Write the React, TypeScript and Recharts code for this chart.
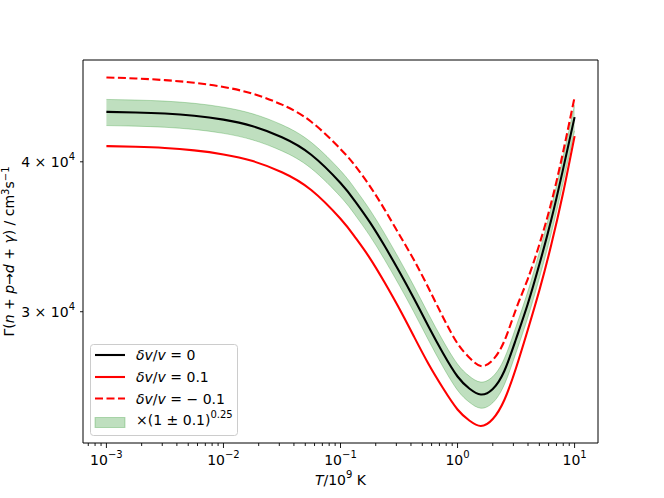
import { ComposedChart, Line, Area, XAxis, YAxis, Legend, ReferenceArea } from 'recharts'

// page has an 8px default margin; the figure should sit at the top-left corner
document.body.style.margin = '0'

const FONT = 'DejaVu Sans, sans-serif'

// Temperature in units of 10^9 K
const T_VALUES = [
  0.001, 0.00178, 0.00316, 0.00562, 0.01, 0.0178, 0.0316, 0.0562, 0.1, 0.133, 0.178, 0.237,
  0.316, 0.422, 0.562, 0.75, 1, 1.26, 1.58, 2.0, 2.51, 3.16, 3.98, 5.01, 6.31, 7.94, 10,
]

// Rate in cm^3 s^-1, dv/v = 0
const RATE_NOMINAL = [
  44026, 43975, 43882, 43698, 43372, 42826, 41932, 40548, 38406, 37096, 35631, 34061, 32436,
  30799, 29189, 27716, 26494, 25892, 25595, 25867, 26776, 28471, 30447, 32874, 35769, 39368,
  43580,
]

// dv/v = 0.1
const RATE_PLUS = [
  41223, 41168, 41073, 40884, 40572, 40054, 39210, 37894, 35858, 34621, 33254, 31758, 30213,
  28634, 27164, 25916, 24870, 24350, 24095, 24420, 25327, 26930, 28966, 31275, 34094, 37598,
  42021,
]

// dv/v = -0.1
const RATE_MINUS = [
  47029, 46939, 46786, 46553, 46179, 45581, 44638, 43198, 40994, 39710, 38179, 36531, 34821,
  33159, 31426, 29698, 28226, 27478, 27034, 27347, 28362, 30156, 31942, 34159, 36954, 40673,
  45285,
]

// x(1 +- 0.1)^0.25 band around the nominal curve
const BAND_LOW = [
  42881, 42832, 42741, 42562, 42244, 41713, 40842, 39494, 37407, 36131, 34705, 33175, 31593,
  29998, 28430, 26995, 25805, 25219, 24930, 25194, 26080, 27731, 29655, 32019, 34839, 38344,
  42447,
]
const BAND_HIGH = [
  45087, 45035, 44940, 44752, 44418, 43859, 42943, 41526, 39332, 37990, 36490, 34882, 33218,
  31542, 29893, 28384, 27133, 26516, 26212, 26491, 27422, 29157, 31181, 33667, 36631, 40317,
  44631,
]

const X_MAJOR_TICKS = [0.001, 0.01, 0.1, 1, 10]
const X_TICK_EXPONENTS = ['\u22123', '\u22122', '\u22121', '0', '1']
const Y_TICKS = [30000, 40000]
const Y_TICK_MANTISSAS = ['3', '4']

const X_DOMAIN = [Math.pow(10, -3.2), Math.pow(10, 1.2)]
const Y_DOMAIN = [23320, 48630]

// minor ticks 2..9 x 10^k that fall inside the x range
const X_MINOR_TICKS: number[] = []
for (let k = -4; k <= 1; k++) {
  for (let m = 2; m <= 9; m++) {
    const v = m * Math.pow(10, k)
    if (v >= X_DOMAIN[0] && v <= X_DOMAIN[1]) X_MINOR_TICKS.push(v)
  }
}
const X_TICKS = [...X_MAJOR_TICKS, ...X_MINOR_TICKS].sort((a, b) => a - b)

const chartData = T_VALUES.map((T, i) => ({
  T,
  nominal: RATE_NOMINAL[i],
  plus: RATE_PLUS[i],
  minus: RATE_MINUS[i],
  band: [BAND_LOW[i], BAND_HIGH[i]],
}))

function XTick(props: any) {
  const { x, y, payload } = props
  const idx = X_MAJOR_TICKS.findIndex((t) => Math.abs(t - payload.value) / t < 1e-6)
  const major = idx >= 0
  return (
    <g>
      <line x1={x} x2={x} y1={y} y2={y + (major ? 5 : 3)} stroke="#000" strokeWidth={0.9} />
      {major && (
        <text x={x} y={y + 22} textAnchor="middle" fontSize={14} fontFamily={FONT} fill="#000">
          10
          <tspan dy={-7} fontSize={10}>
            {X_TICK_EXPONENTS[idx]}
          </tspan>
        </text>
      )}
    </g>
  )
}

function YTick(props: any) {
  const { x, y, payload } = props
  const idx = Y_TICKS.indexOf(payload.value)
  return (
    <g>
      <line x1={x - 3} x2={x} y1={y} y2={y} stroke="#000" strokeWidth={0.9} />
      <text x={x - 8} y={y + 5} textAnchor="end" fontSize={14} fontFamily={FONT} fill="#000">
        {Y_TICK_MANTISSAS[idx]} × 10
        <tspan dy={-7} fontSize={10}>
          4
        </tspan>
      </text>
    </g>
  )
}

function XLabel(props: any) {
  const vb = props.viewBox
  const cx = vb.x + vb.width / 2
  return (
    <text x={cx} y={vb.y + 42} textAnchor="middle" fontSize={14} fontFamily={FONT} fill="#000">
      <tspan fontStyle="italic">T</tspan>/10
      <tspan dy={-7} fontSize={10}>
        9
      </tspan>
      <tspan dy={7}> K</tspan>
    </text>
  )
}

function YLabel(props: any) {
  const vb = props.viewBox
  const cx = vb.x - 9
  const cy = vb.y + vb.height / 2
  return (
    <text
      x={cx}
      y={cy}
      transform={`rotate(-90, ${cx}, ${cy})`}
      textAnchor="middle"
      fontSize={14}
      fontFamily={FONT}
      fill="#000"
    >
      Γ(<tspan fontStyle="italic">n</tspan> + <tspan fontStyle="italic">p</tspan>→
      <tspan fontStyle="italic">d</tspan> + <tspan fontStyle="italic">γ</tspan>) / cm
      <tspan dy={-5} fontSize={10}>
        3
      </tspan>
      <tspan dy={5}>s</tspan>
      <tspan dy={-5} fontSize={10}>
        −1
      </tspan>
    </text>
  )
}

function Italic({ children }: { children: string }) {
  return <tspan fontStyle="italic">{children}</tspan>
}

function LegendBox() {
  const rows = [11, 33, 54.5]
  const textProps = { fontSize: 14, fontFamily: FONT, fill: '#000' }
  return (
    <svg width={148} height={92} style={{ display: 'block' }}>
      <rect x={0.5} y={0.5} width={147} height={91} rx={3} fill="#fff" fillOpacity={0.8} stroke="#cccccc" />
      <line x1={5} x2={35} y1={rows[0]} y2={rows[0]} stroke="#000" strokeWidth={2.1} />
      <line x1={5} x2={35} y1={rows[1]} y2={rows[1]} stroke="red" strokeWidth={2.1} />
      <line x1={5} x2={35} y1={rows[2]} y2={rows[2]} stroke="red" strokeWidth={2.1} strokeDasharray="8 3.5" />
      <rect x={5} y={73.5} width={30} height={10} fill="green" fillOpacity={0.25} stroke="green" strokeOpacity={0.25} />
      <text x={46} y={rows[0] + 5} {...textProps}>
        <Italic>δv</Italic>/<Italic>v</Italic> = 0
      </text>
      <text x={46} y={rows[1] + 5} {...textProps}>
        <Italic>δv</Italic>/<Italic>v</Italic> = 0.1
      </text>
      <text x={46} y={rows[2] + 5} {...textProps}>
        <Italic>δv</Italic>/<Italic>v</Italic> = − 0.1
      </text>
      <text x={46} y={81} {...textProps}>
        ×(1 ± 0.1)
        <tspan dy={-7} fontSize={10}>
          0.25
        </tspan>
      </text>
    </svg>
  )
}

export default function App() {
  return (
    <div style={{ width: 664, height: 498, background: '#fff' }}>
      <ComposedChart
        width={664}
        height={498}
        data={chartData}
        margin={{ top: 60, right: 66, bottom: 15, left: 23 }}
        style={{ fontFamily: FONT }}
      >
        <XAxis
          dataKey="T"
          type="number"
          scale="log"
          domain={X_DOMAIN}
          allowDataOverflow
          ticks={X_TICKS}
          interval={0}
          tick={<XTick />}
          tickLine={false}
          tickSize={0}
          tickMargin={0}
          height={40}
          axisLine={false}
          label={{ content: XLabel }}
        />
        <YAxis
          type="number"
          scale="log"
          domain={Y_DOMAIN}
          allowDataOverflow
          ticks={Y_TICKS}
          interval={0}
          tick={<YTick />}
          tickLine={false}
          tickSize={0}
          tickMargin={0}
          width={60}
          axisLine={false}
          label={{ content: YLabel }}
        />
        <Area
          dataKey="band"
          type="natural"
          fill="green"
          fillOpacity={0.25}
          stroke="green"
          strokeOpacity={0.25}
          strokeWidth={1}
          isAnimationActive={false}
          activeDot={false}
          dot={false}
        />
        <Line dataKey="nominal" type="natural" stroke="#000" strokeWidth={2.1} dot={false} activeDot={false} isAnimationActive={false} />
        <Line dataKey="plus" type="natural" stroke="red" strokeWidth={2.1} dot={false} activeDot={false} isAnimationActive={false} />
        <Line
          dataKey="minus"
          type="natural"
          stroke="red"
          strokeWidth={2.1}
          strokeDasharray="8 3.5"
          dot={false}
          activeDot={false}
          isAnimationActive={false}
        />
        {/* axes frame on all four sides */}
        <ReferenceArea
          x1={X_DOMAIN[0]}
          x2={X_DOMAIN[1]}
          y1={Y_DOMAIN[0]}
          y2={Y_DOMAIN[1]}
          fill="none"
          stroke="#000"
          strokeWidth={1}
          ifOverflow="visible"
        />
        <Legend
          layout="vertical"
          align="center"
          verticalAlign="middle"
          wrapperStyle={{ left: 90, top: 344, width: 148, height: 92 }}
          content={() => <LegendBox />}
        />
      </ComposedChart>
    </div>
  )
}
